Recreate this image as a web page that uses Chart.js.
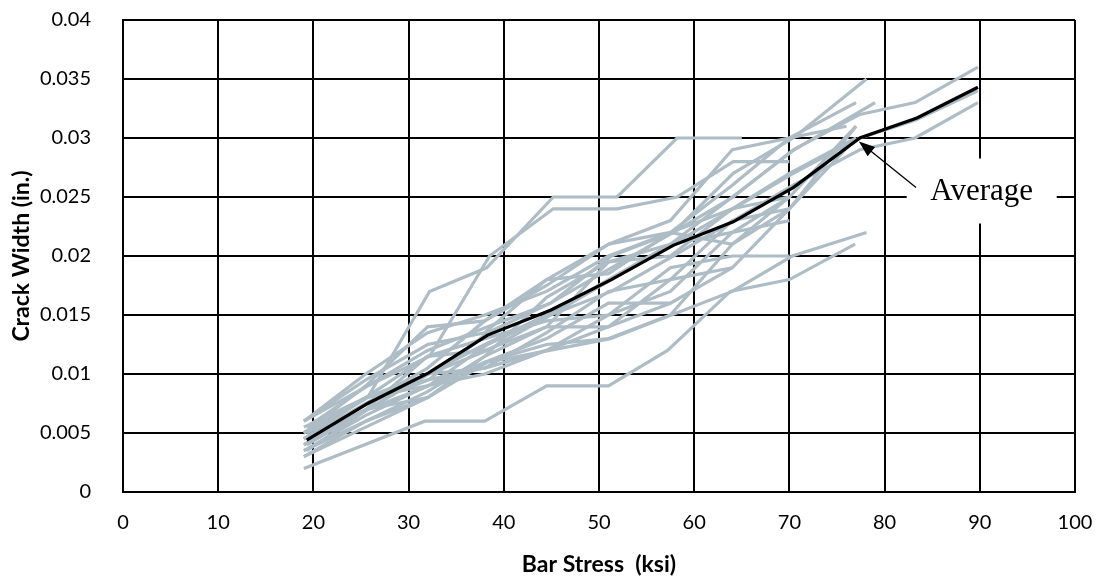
<!DOCTYPE html>
<html>
<head>
<meta charset="utf-8">
<script src="https://cdn.jsdelivr.net/npm/chart.js@4/dist/chart.umd.min.js"></script>
<style>
  html, body { margin: 0; padding: 0; background: #fff; }
  #wrap { width: 1103px; height: 582px; position: relative; }
</style>
</head>
<body>
<div id="wrap"><canvas id="canvas"></canvas></div>
<script>
// bar stress (ksi), crack width (in.) for each specimen
const spec01 = [[19,0.002],[31.7,0.006],[38,0.006],[44.5,0.009],[51,0.009],[57.2,0.012],[63.8,0.017],[70,0.018],[76.9,0.021]]
const spec02 = [[19,0.003],[25.5,0.006],[32,0.008],[38.3,0.011],[44.8,0.012],[51.2,0.013],[57.6,0.015],[64,0.017],[70.3,0.020],[78.1,0.022]]
const spec03 = [[19.3,0.005],[25.7,0.008],[32.2,0.017],[38.2,0.019],[45.2,0.025],[51.9,0.025],[58.2,0.030],[65,0.030]]
const spec04 = [[19.3,0.0055],[25.7,0.009],[32.2,0.0115],[38.5,0.020],[45.2,0.024],[51.9,0.024],[58.2,0.025],[64.1,0.028],[70,0.028]]
const spec05 = [[19,0.006],[25.7,0.009],[32,0.012],[38.3,0.014],[44.9,0.016],[51.3,0.020],[57.8,0.022],[64.1,0.027],[70.4,0.030],[78.1,0.035]]
const spec06 = [[19.3,0.0045],[25.7,0.0075],[32.1,0.0095],[38.3,0.0135],[44.9,0.016],[51.3,0.019],[57.8,0.022],[64.1,0.025],[70.4,0.029],[77.4,0.032],[83.2,0.033],[89.8,0.036]]
const spec07 = [[19.3,0.004],[25.7,0.007],[32.1,0.009],[38.3,0.0125],[44.9,0.015],[51.3,0.017],[57.8,0.020],[64.1,0.023],[70.4,0.026],[77.4,0.029],[83.2,0.030],[89.8,0.033]]
const spec08 = [[19.3,0.0035],[25.7,0.007],[32.1,0.010],[38.3,0.012],[44.9,0.015],[51.3,0.018],[57.8,0.021],[64.1,0.024],[70.4,0.027],[77.4,0.030],[83.2,0.0315],[89.8,0.034]]
const spec09 = [[19,0.005],[25.5,0.008],[32,0.010],[38,0.0125],[44.5,0.015],[51,0.018],[57.5,0.021],[64,0.025],[70.5,0.029],[79,0.033]]
const spec10 = [[19,0.006],[25.5,0.010],[32,0.0135],[38,0.015],[44.5,0.017],[51,0.020],[57.5,0.022],[64,0.024],[70,0.025]]
const spec11 = [[19,0.004],[25.5,0.0075],[32,0.0105],[38,0.0145],[44.5,0.018],[51,0.021],[57.5,0.022],[64,0.026],[70,0.030],[76,0.031]]
const spec12 = [[19,0.005],[25.5,0.008],[32,0.009],[38,0.011],[44.5,0.013],[51,0.016],[57.5,0.016]]
const spec13 = [[19,0.0045],[25.5,0.0075],[32,0.010],[38,0.0105],[44.5,0.012],[51,0.014],[57.5,0.016],[64,0.019],[70,0.024],[77,0.030]]
const spec14 = [[19,0.0055],[25.5,0.008],[32,0.0115],[38,0.012],[44.5,0.014],[51,0.014],[57.5,0.018],[64,0.019]]
const spec15 = [[19,0.004],[25.5,0.007],[32,0.008],[38,0.011],[44.5,0.0125],[51,0.013],[57.5,0.015],[64,0.021],[70,0.024],[77,0.031]]
const spec16 = [[19,0.0035],[25.5,0.0065],[32,0.009],[38,0.010],[44.5,0.012],[51,0.015],[57.5,0.019],[64,0.020],[70,0.020]]
const spec17 = [[19,0.003],[25.5,0.0055],[32,0.008],[38,0.0115],[44.5,0.014],[51,0.0195],[57.5,0.021],[64,0.022],[70,0.025],[77,0.031]]
const spec18 = [[19,0.0045],[25.5,0.008],[32,0.0095],[38,0.0105],[44.5,0.0135],[51,0.017],[57.5,0.018],[64,0.023],[70,0.024]]
const spec19 = [[19,0.005],[25.5,0.009],[32,0.014],[38,0.0145],[44.5,0.0175],[51,0.021],[57.5,0.023],[64,0.029],[70,0.030],[77,0.033]]
const spec20 = [[19,0.0035],[25.5,0.006],[32,0.0085],[38,0.0115],[44.5,0.0165],[51,0.0195],[57.5,0.020],[64,0.024],[70,0.027],[77,0.030]]
const spec21 = [[19,0.006],[25.5,0.0095],[32,0.0125],[38,0.0135],[44.5,0.018],[51,0.0185],[57.5,0.022],[64,0.021],[70,0.025]]
const spec22 = [[19,0.0045],[25.5,0.007],[32,0.0115],[38,0.013],[44.5,0.0145],[51,0.015],[57.5,0.017],[64,0.022],[70,0.023]]

const avgStress = [19.3, 25.7, 32.1, 38.3, 44.9, 51.3, 57.8, 64.1, 70.4, 77.4, 83.4, 89.8]
const avgWidth  = [0.0044, 0.0075, 0.0101, 0.0133, 0.0154, 0.0180, 0.0209, 0.0229, 0.0258, 0.0300, 0.0317, 0.0343]

const xTicks = [0, 10, 20, 30, 40, 50, 60, 70, 80, 90, 100]
const yTicks = [0, 0.005, 0.01, 0.015, 0.02, 0.025, 0.03, 0.035, 0.04]

const specimens = [spec01, spec02, spec03, spec04, spec05, spec06, spec07, spec08, spec09, spec10, spec11,
                   spec12, spec13, spec14, spec15, spec16, spec17, spec18, spec19, spec20, spec21, spec22]

const GREY = '#adbcc5'
const FONT = 'Lato, Calibri, Carlito, sans-serif'

const datasets = [{
    label: 'Average',
    data: avgStress.map((x, i) => ({x, y: avgWidth[i]})),
    borderColor: '#000',
    borderWidth: 3.2,
    pointRadius: 0,
    tension: 0
}]
specimens.forEach((s, i) => {
    datasets.push({
        label: 'Specimen ' + (i + 1),
        data: s.map(p => ({x: p[0], y: p[1]})),
        borderColor: GREY,
        borderWidth: 3.2,
        pointRadius: 0,
        tension: 0
    })
})

// "Average" callout with arrow
const averageLabel = {
    id: 'averageLabel',
    afterDatasetsDraw(chart) {
        const {ctx, scales: {x, y}} = chart
        const tipX = x.getPixelForValue(77.3), tipY = y.getPixelForValue(0.0297)
        const tailX = x.getPixelForValue(83.3), tailY = y.getPixelForValue(0.0258)
        const cx = x.getPixelForValue(90.2), cy = y.getPixelForValue(0.02555)
        ctx.save()
        ctx.fillStyle = '#fff'
        ctx.fillRect(cx - 75, cy - 32, 150, 65)
        ctx.fillStyle = '#000'
        ctx.font = '31px "Liberation Serif", "Times New Roman", serif'
        ctx.textAlign = 'center'
        ctx.textBaseline = 'middle'
        ctx.fillText('Average', cx, cy + 1)
        // arrow shaft
        const ang = Math.atan2(tipY - tailY, tipX - tailX)
        ctx.strokeStyle = '#000'
        ctx.lineWidth = 1.3
        ctx.beginPath()
        ctx.moveTo(tailX, tailY)
        ctx.lineTo(tipX - Math.cos(ang) * 8, tipY - Math.sin(ang) * 8)
        ctx.stroke()
        // arrow head
        const len = 16, wid = 6
        ctx.beginPath()
        ctx.moveTo(tipX, tipY)
        ctx.lineTo(tipX - len * Math.cos(ang) + wid * Math.sin(ang), tipY - len * Math.sin(ang) - wid * Math.cos(ang))
        ctx.lineTo(tipX - len * Math.cos(ang) - wid * Math.sin(ang), tipY - len * Math.sin(ang) + wid * Math.cos(ang))
        ctx.closePath()
        ctx.fill()
        ctx.restore()
    }
}

const ctx = document.getElementById('canvas')
new Chart(ctx, {
    type: 'line',
    data: { datasets },
    options: {
        responsive: true,
        maintainAspectRatio: false,
        animation: false,
        layout: { padding: { left: 0, right: 28, top: 20, bottom: 0 } },
        plugins: {
            legend: { display: false },
            tooltip: { enabled: false }
        },
        scales: {
            x: {
                type: 'linear',
                min: 0, max: 100,
                afterBuildTicks: axis => { axis.ticks = xTicks.map(v => ({value: v})) },
                afterFit: axis => { axis.height = 90; axis.paddingLeft = 0; axis.paddingRight = 0 },
                grid: { color: '#000', lineWidth: 2, drawTicks: false },
                border: { color: '#000', width: 2 },
                ticks: { color: '#000', font: { family: FONT, size: 20 }, padding: 19, maxRotation: 0 },
                title: {
                    display: true, text: 'Bar Stress  (ksi)', color: '#000',
                    font: { family: FONT, size: 23, weight: 'bold' }, padding: { top: 10 }
                }
            },
            y: {
                type: 'linear',
                min: 0, max: 0.04,
                afterBuildTicks: axis => { axis.ticks = yTicks.map(v => ({value: v})) },
                afterFit: axis => { axis.width = 123; axis.paddingTop = 0; axis.paddingBottom = 0 },
                grid: { color: '#000', lineWidth: 2, drawTicks: false },
                border: { color: '#000', width: 2 },
                ticks: {
                    color: '#000', font: { family: FONT, size: 20 }, padding: 32,
                    callback: v => String(parseFloat(Number(v).toFixed(3)))
                },
                title: {
                    display: true, text: 'Crack Width (in.)', color: '#000',
                    font: { family: FONT, size: 23, weight: 'bold' }, padding: { top: 8, bottom: 0 }
                }
            }
        }
    },
    plugins: [averageLabel]
})
</script>
</body>
</html>
